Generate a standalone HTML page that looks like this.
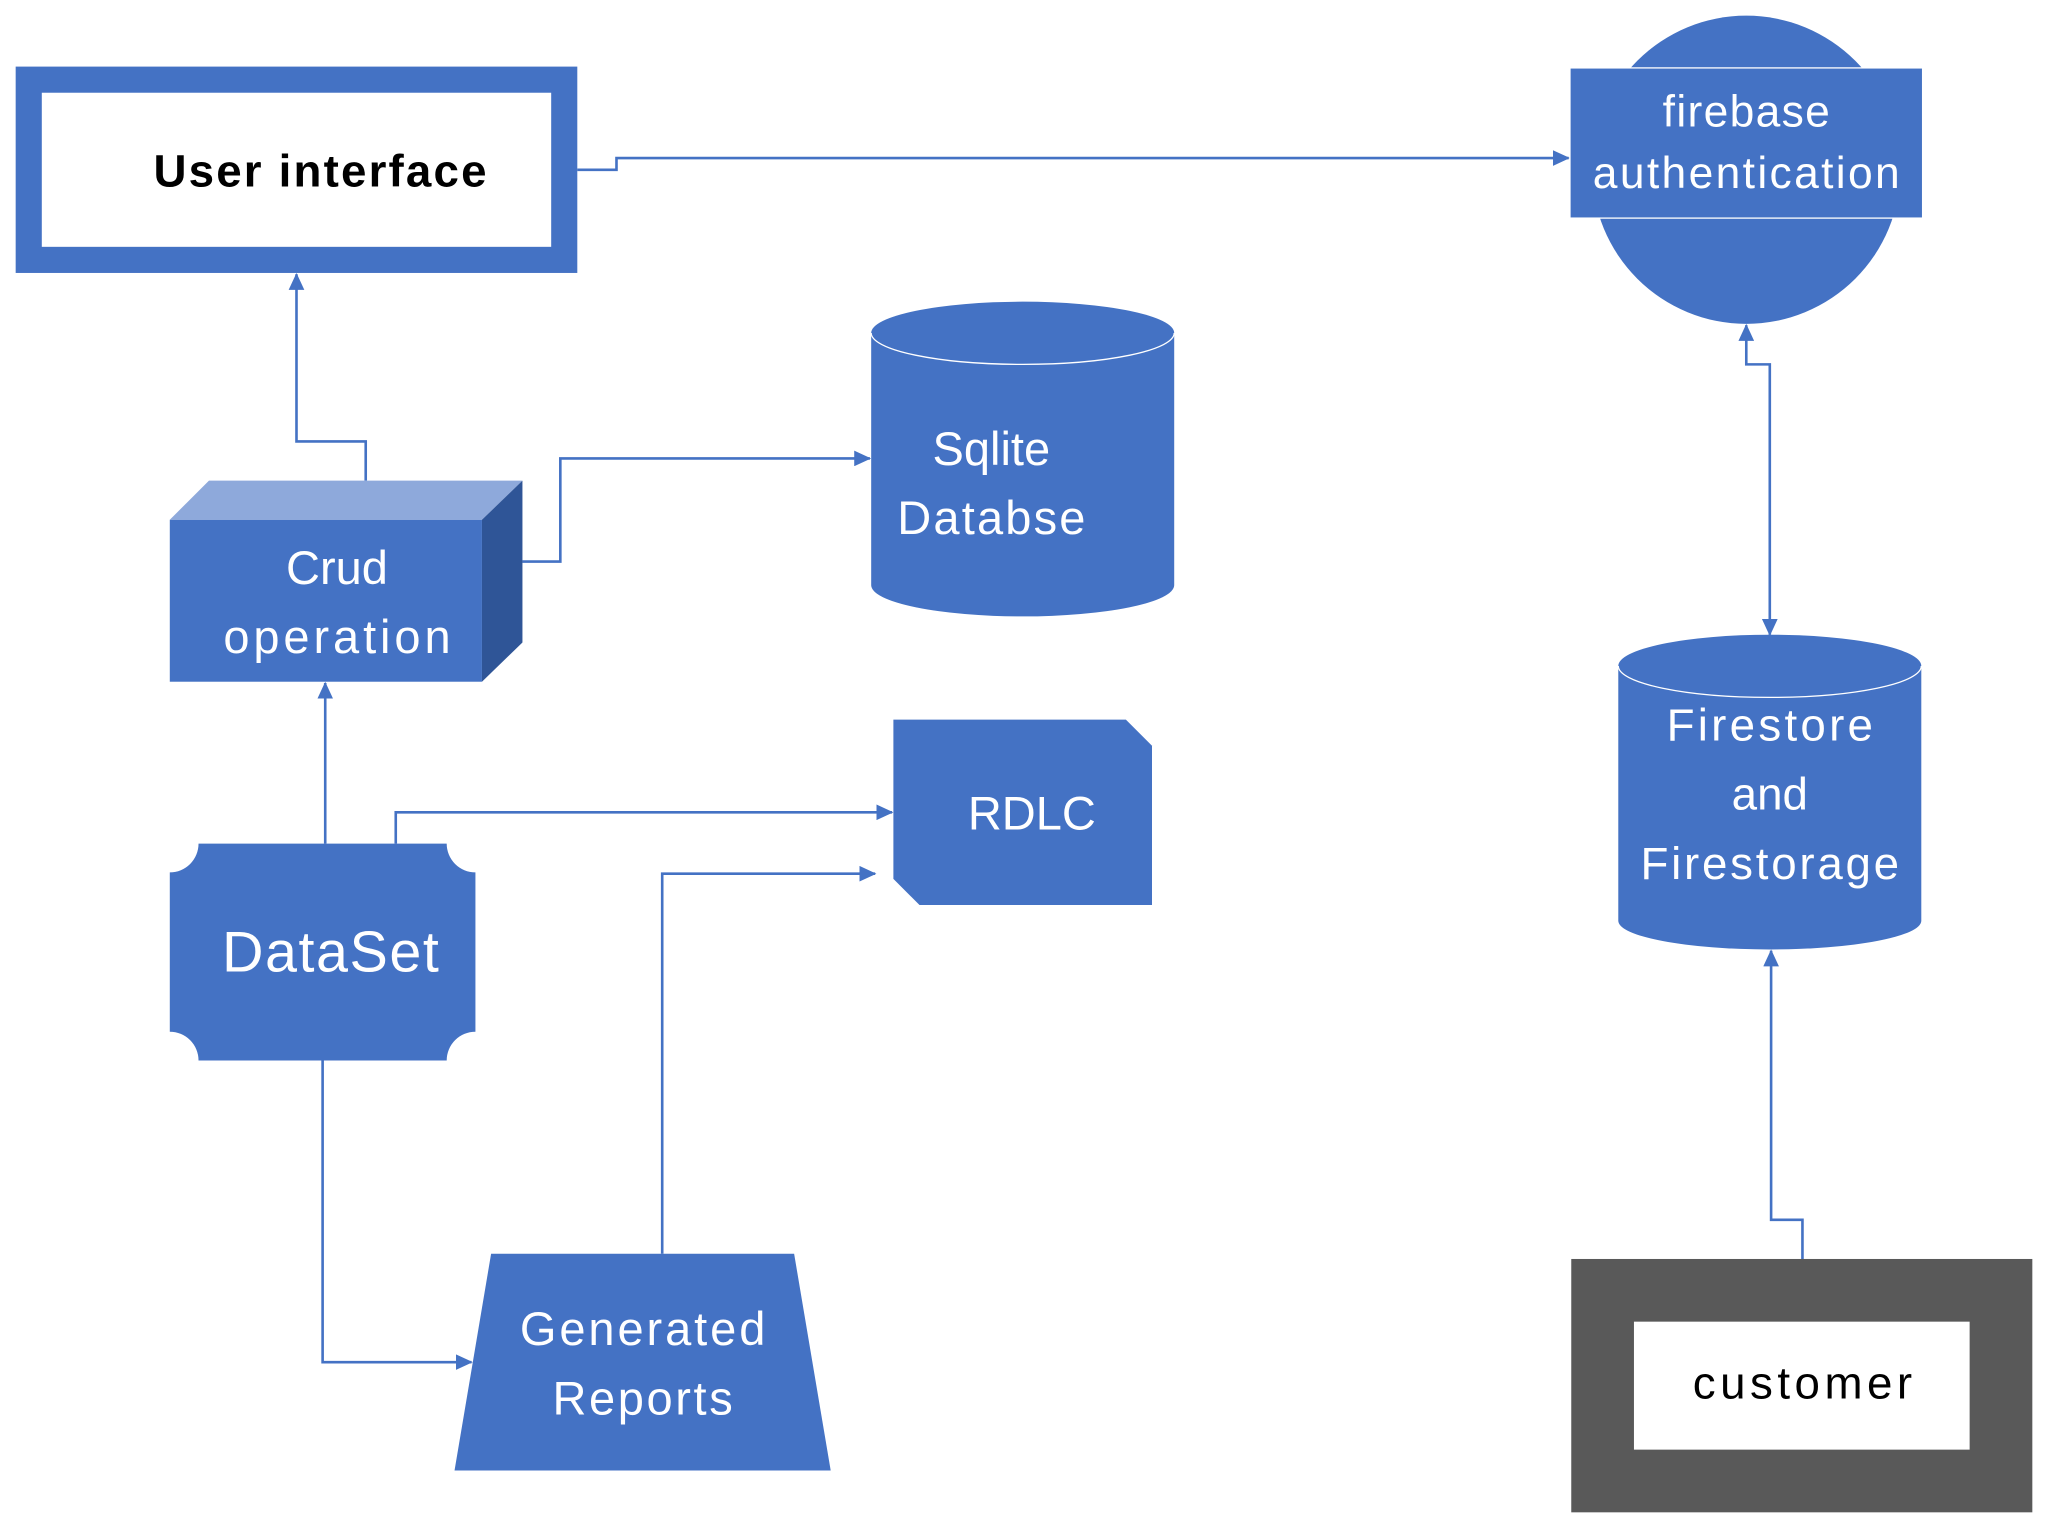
<!DOCTYPE html>
<html><head><meta charset="utf-8"><style>html,body{margin:0;padding:0;background:#fff}svg{display:block}</style></head><body>
<svg width="2048" height="1528" viewBox="0 0 1568 1170" preserveAspectRatio="none" xmlns="http://www.w3.org/2000/svg" font-family="Liberation Sans, sans-serif">
<defs><marker id="a" markerWidth="13" markerHeight="12" refX="12" refY="6" orient="auto" markerUnits="userSpaceOnUse"><path d="M0,0 L13,6 L0,12 z" fill="#4472C4"/></marker>
<marker id="s" markerWidth="13" markerHeight="12" refX="1" refY="6" orient="auto" markerUnits="userSpaceOnUse"><path d="M13,0 L0,6 L13,12 z" fill="#4472C4"/></marker></defs>
<g fill="none" stroke="#4472C4" stroke-width="2">
<path d="M442,130 H472 V121 H1201" marker-end="url(#a)"/>
<path d="M280,368 V338 H227 V210" marker-end="url(#a)"/>
<path d="M400,430 H429 V351 H666" marker-end="url(#a)"/>
<path d="M249,646 V523" marker-end="url(#a)"/>
<path d="M303,646 V622 H683" marker-end="url(#a)"/>
<path d="M247,812 V1043 H361" marker-end="url(#a)"/>
<path d="M507,960 V669 H670" marker-end="url(#a)"/>
<path d="M1355,486 V279 H1337 V249" marker-end="url(#a)" marker-start="url(#s)"/>
<path d="M1380,964 V934 H1356 V728" marker-end="url(#a)"/>
</g>
<rect x="22" y="61" width="410" height="138" fill="#fff" stroke="#4472C4" stroke-width="20"/>
<text x="245" y="143" font-size="35" font-weight="bold" text-anchor="middle" fill="#000" textLength="255">User interface</text>
<circle cx="1337" cy="130" r="118" fill="#4472C4"/>
<rect x="1202" y="52" width="270" height="115" fill="#4472C4" stroke="#fff" stroke-width="1"/>
<g fill="#fff" font-size="34" text-anchor="middle"><text x="1337" y="97" textLength="128">firebase</text><text x="1337" y="144" textLength="235">authentication</text></g>
<path d="M667,255 V448 A116,24 0 0 0 899,448 V255 A116,24 0 0 0 667,255 Z" fill="#4472C4"/>
<path d="M667,255 A116,24 0 0 0 899,255" fill="none" stroke="#fff" stroke-width="1"/>
<g fill="#fff" font-size="36" text-anchor="middle"><text x="759" y="356">Sqlite</text><text x="759" y="409" textLength="144">Databse</text></g>
<path d="M130,398 L160,368 L400,368 L369,398 Z" fill="#8EA9DB"/>
<path d="M369,398 L400,368 L400,492 L369,522 Z" fill="#2F5597"/>
<rect x="130" y="398" width="239" height="124" fill="#4472C4"/>
<g fill="#fff" font-size="36" text-anchor="middle"><text x="258" y="447">Crud</text><text x="258" y="500" textLength="174">operation</text></g>
<path d="M152,646 H342 A22,22 0 0 0 364,668 V790 A22,22 0 0 0 342,812 H152 A22,22 0 0 0 130,790 V668 A22,22 0 0 0 152,646 Z" fill="#4472C4"/>
<text x="253" y="744" font-size="44" fill="#fff" text-anchor="middle" textLength="166">DataSet</text>
<path d="M684,551 H862 L882,571 V693 H704 L684,673 Z" fill="#4472C4"/>
<text x="790" y="635" font-size="36" fill="#fff" text-anchor="middle">RDLC</text>
<path d="M376,960 H608 L636,1126 H348 Z" fill="#4472C4"/>
<g fill="#fff" font-size="36" text-anchor="middle"><text x="492" y="1030" textLength="188">Generated</text><text x="492" y="1083" textLength="138">Reports</text></g>
<path d="M1239,510 V705 A116,22 0 0 0 1471,705 V510 A116,24 0 0 0 1239,510 Z" fill="#4472C4"/>
<path d="M1239,510 A116,24 0 0 0 1471,510" fill="none" stroke="#fff" stroke-width="1"/>
<g fill="#fff" font-size="35" text-anchor="middle"><text x="1355" y="567" textLength="158">Firestore</text><text x="1355" y="620">and</text><text x="1355" y="673" textLength="198">Firestorage</text></g>
<rect x="1227" y="988" width="305" height="146" fill="#fff" stroke="#595959" stroke-width="48"/>
<text x="1380" y="1071" font-size="35" fill="#000" text-anchor="middle" textLength="168">customer</text>
</svg>
</body></html>
